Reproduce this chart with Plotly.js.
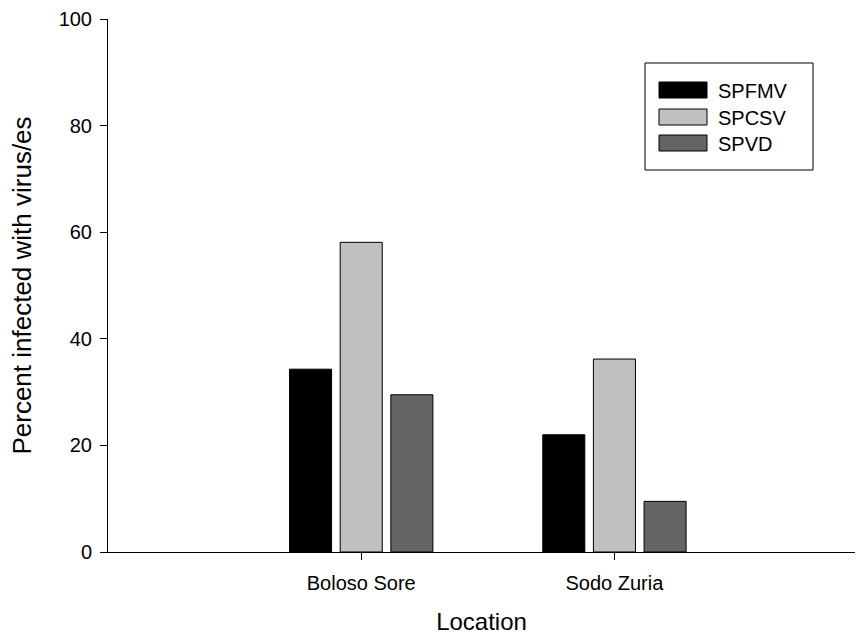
<!DOCTYPE html>
<html>
<head>
<meta charset="utf-8">
<script src="https://cdn.plot.ly/plotly-3.0.1.min.js"></script>
<style>html,body{margin:0;padding:0;background:#fff;}#chart{width:863px;height:635px;}</style>
</head>
<body>
<div id="chart"></div>
<script>
const locations = ["Boloso Sore", "Sodo Zuria"];
const seriesNames = ["SPFMV", "SPCSV", "SPVD"];
const spfmv = [34.3, 22.0];
const spcsv = [58.1, 36.2];
const spvd = [29.5, 9.5];
const seriesColors = ["#000000", "#c0c0c0", "#646464"];
const yTicks = [0, 20, 40, 60, 80, 100];

const values = [spfmv, spcsv, spvd];
const traces = values.map((v, i) => ({
  type: "bar",
  name: seriesNames[i],
  x: locations,
  y: v,
  marker: {color: seriesColors[i], line: {color: "#000", width: 1}},
  showlegend: false,
  hoverinfo: "x+y+name"
}));

const L = 108, R = 855, T = 19, B = 552;
const px = x => (x - L) / (R - L);
const py = y => (B - y) / (B - T);
const FONT = "Liberation Sans, Arial, sans-serif";

const shapes = [];
const annotations = [];
// legend box
shapes.push({type: "rect", xref: "paper", yref: "paper",
  x0: px(645), x1: px(813), y0: py(170), y1: py(63),
  line: {color: "#000", width: 1}, fillcolor: "#fff", layer: "above"});
const rowY = [90, 117, 143];
seriesNames.forEach((n, i) => {
  shapes.push({type: "rect", xref: "paper", yref: "paper",
    x0: px(659), x1: px(707), y0: py(rowY[i] + 8), y1: py(rowY[i] - 8),
    line: {color: "#000", width: 1}, fillcolor: seriesColors[i], layer: "above"});
  annotations.push({xref: "paper", yref: "paper", x: px(716), y: py(rowY[i] + 1),
    xanchor: "left", yanchor: "middle", showarrow: false, text: n,
    font: {family: FONT, size: 20, color: "#000"}});
});

const layout = {
  width: 863, height: 635,
  margin: {l: L, r: 863 - R, t: T, b: 635 - B, pad: 0},
  paper_bgcolor: "#fff", plot_bgcolor: "#fff",
  barmode: "group", bargap: 0.4, bargroupgap: 0.17,
  font: {family: FONT, size: 20, color: "#000"},
  xaxis: {
    type: "category", range: [-1.0, 1.95],
    showline: true, linecolor: "#000", linewidth: 1,
    ticks: "outside", ticklen: 7, tickcolor: "#000", tickwidth: 1,
    ticklabelstandoff: 6,
    showgrid: false, zeroline: false, automargin: false,
    tickfont: {size: 20},
    title: {text: "Location", font: {size: 24}, standoff: 27}
  },
  yaxis: {
    range: [0, 100], tickvals: yTicks, ticktext: yTicks.map(String),
    showline: true, linecolor: "#000", linewidth: 1,
    ticks: "outside", ticklen: 7, tickcolor: "#000", tickwidth: 1,
    ticklabelstandoff: 4,
    showgrid: false, zeroline: false, automargin: false,
    tickfont: {size: 20},
    title: {text: "Percent infected with virus/es", font: {size: 26}, standoff: 19}
  },
  shapes: shapes,
  annotations: annotations,
  showlegend: false
};

Plotly.newPlot("chart", traces, layout, {displayModeBar: false, staticPlot: true});
</script>
</body>
</html>
